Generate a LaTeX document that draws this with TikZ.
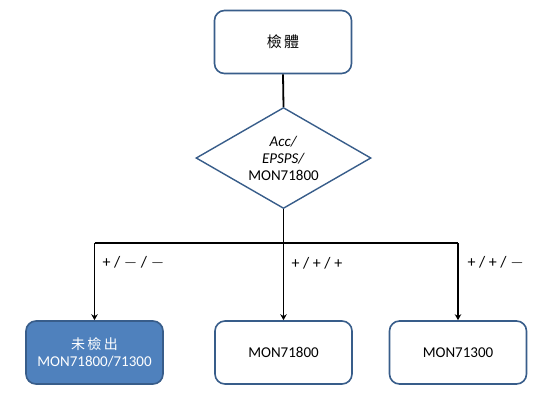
\documentclass[tikz,border=0pt]{standalone}
\usepackage{fontspec}
\setmainfont{Carlito}
\newfontfamily\cjk{Noto Sans CJK TC}
\usetikzlibrary{shapes.geometric,arrows.meta}
\definecolor{bordblue}{HTML}{385D8A}
\definecolor{fillblue}{HTML}{4F81BD}
\begin{document}
\begin{tikzpicture}[x=1pt,y=-1pt,
  box/.style={draw=bordblue,line width=1.6pt,rounded corners=10pt,minimum width=137pt,minimum height=63pt,fill=white,align=center,font=\fontsize{15}{18}\selectfont},
  dia/.style={diamond,draw=bordblue,line width=1.4pt,fill=white,minimum width=175pt,minimum height=101pt,inner sep=0pt},
  diatext/.style={align=center,font=\fontsize{15}{18}\selectfont,inner sep=0pt},
  conn/.style={line width=1.8pt,black},
  arr/.style={conn,-{Stealth[length=6pt,width=6.5pt]}},
  lab/.style={font=\fontsize{16}{18}\selectfont,anchor=west}]
\useasboundingbox (0,0) rectangle (558,400);
\node[box] (top) at (283,42) {{\cjk 檢\,體}};
\node[dia] (d) at (283.5,158) {};
\node[diatext] (dt) at (d.center) {\textit{Acc/}\\[-1pt]\textit{EPSPS/}\\[-1pt]MON71800};
\node[box,fill=fillblue,text=white] (b1) at (94.5,352.5) {{\cjk\fontsize{14}{16}\selectfont 未\,檢\,出}\\[-1pt]MON71800/71300};
\node[box] (b2) at (283.5,352.5) {MON71800};
\node[box] (b3) at (458,352.5) {MON71300};
\coordinate (j) at (283.5,243);
\coordinate (jl) at (94.5,243);
\coordinate (jr) at (458,243);
\draw[conn] (top.south) -- (d.north);
\draw[conn] (d.south) -- (j);
\draw[arr] (jl) -- (b1.north);
\draw[arr] (j) -- (b2.north);
\draw[arr] (jr) -- (b3.north);
\draw[conn] (jl) -- (jr);
\node[lab] (l1) at (99,263) {+ / $-$ / $-$};
\node[lab] (l2) at (288,263) {+ / + / +};
\node[lab] (l3) at (464,263) {+ / + / $-$};
\end{tikzpicture}
\end{document}
